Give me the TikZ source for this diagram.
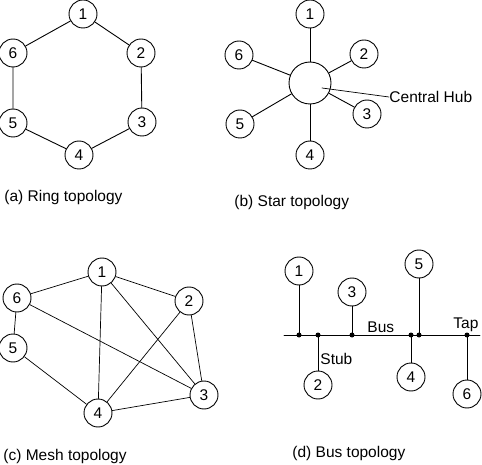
\documentclass[tikz,border=0pt]{standalone}
\usepackage{fontspec}
\setmainfont{Liberation Sans}
\tikzset{
  station/.style={draw, circle, minimum size=28pt, inner sep=0pt},
  hubnode/.style={draw, circle, minimum size=42pt, inner sep=0pt},
  tapdot/.style={fill, circle, minimum size=5pt, inner sep=0pt},
  caption/.style={anchor=west, inner sep=0pt},
}
\begin{document}
\begin{tikzpicture}[x=1pt, y=-1pt, line width=0.9pt, line cap=round, line join=round,
  font=\fontsize{15.5}{18}\selectfont]
  \useasboundingbox (0,0) rectangle (482,465);
  % (a) ring: six stations on a closed loop
  \node[station] (r1) at (83, 14)  {1};
  \node[station] (r2) at (141, 53) {2};
  \node[station] (r3) at (142, 122) {3};
  \node[station] (r4) at (79, 155) {4};
  \node[station] (r5) at (13, 123) {5};
  \node[station] (r6) at (13, 53)  {6};
  \draw (r1) -- (r2) -- (r3) -- (r4) -- (r5) -- (r6) -- (r1);
  \node[caption] (capa) at (4, 197) {(a) Ring topology};
  % (b) star: every station wired to the hub
  \node[hubnode] (hub) at (310, 83) {};
  \node[station] (s1) at (310, 14)  {1};
  \node[station] (s2) at (364, 54)  {2};
  \node[station] (s3) at (367, 114) {3};
  \node[station] (s4) at (310, 155) {4};
  \node[station] (s5) at (240, 124) {5};
  \node[station] (s6) at (239, 55)  {6};
  \foreach \i in {1,...,6}
    \draw (s\i) -- (hub);
  \coordinate (hubpt) at (322, 88);
  \node[caption] (hublbl) at (389, 97) {Central Hub};
  \draw[line width=0.7pt] (hubpt) -- (hublbl.west);
  \node[caption] (capb) at (234, 202) {(b) Star topology};
  % (c) mesh
  \node[station] (m1) at (102, 272) {1};
  \node[station] (m2) at (189, 301) {2};
  \node[station] (m3) at (204, 395) {3};
  \node[station] (m4) at (98, 413)  {4};
  \node[station] (m5) at (13, 348)  {5};
  \node[station] (m6) at (17, 298)  {6};
  \foreach \a/\b in {1/6, 1/2, 1/4, 1/3, 6/5, 6/3, 5/4, 2/4, 2/3, 4/3}
    \draw[line width=0.7pt] (m\a) -- (m\b);
  \node[caption] (capc) at (3, 456) {(c) Mesh topology};
  % (d) bus: one cable, stations hang off taps
  \coordinate (busL) at (284, 335);
  \coordinate (busR) at (480, 335);
  \draw (busL) -- (busR);
  \node[tapdot] (t1) at (299, 335) {};
  \node[tapdot] (t2) at (318, 335) {};
  \node[tapdot] (t3) at (352, 335) {};
  \node[tapdot] (t4) at (411, 335) {};
  \node[tapdot] (t5) at (419, 335) {};
  \node[tapdot] (t6) at (467, 335) {};
  \node[station] (b1) at (299, 271) {1};
  \node[station] (b2) at (318, 385) {2};
  \node[station] (b3) at (352, 292) {3};
  \node[station] (b4) at (411, 377) {4};
  \node[station] (b5) at (419, 264) {5};
  \node[station] (b6) at (467, 394) {6};
  \foreach \i in {1,...,6}
    \draw (b\i) -- (t\i.center);
  \node[caption] (stub) at (320, 359) {Stub};
  \node[caption] (buslbl) at (367, 327) {Bus};
  \node[caption] (tap) at (453, 325) {Tap};
  \node[caption] (capd) at (292, 453) {(d) Bus topology};
\end{tikzpicture}
\end{document}
